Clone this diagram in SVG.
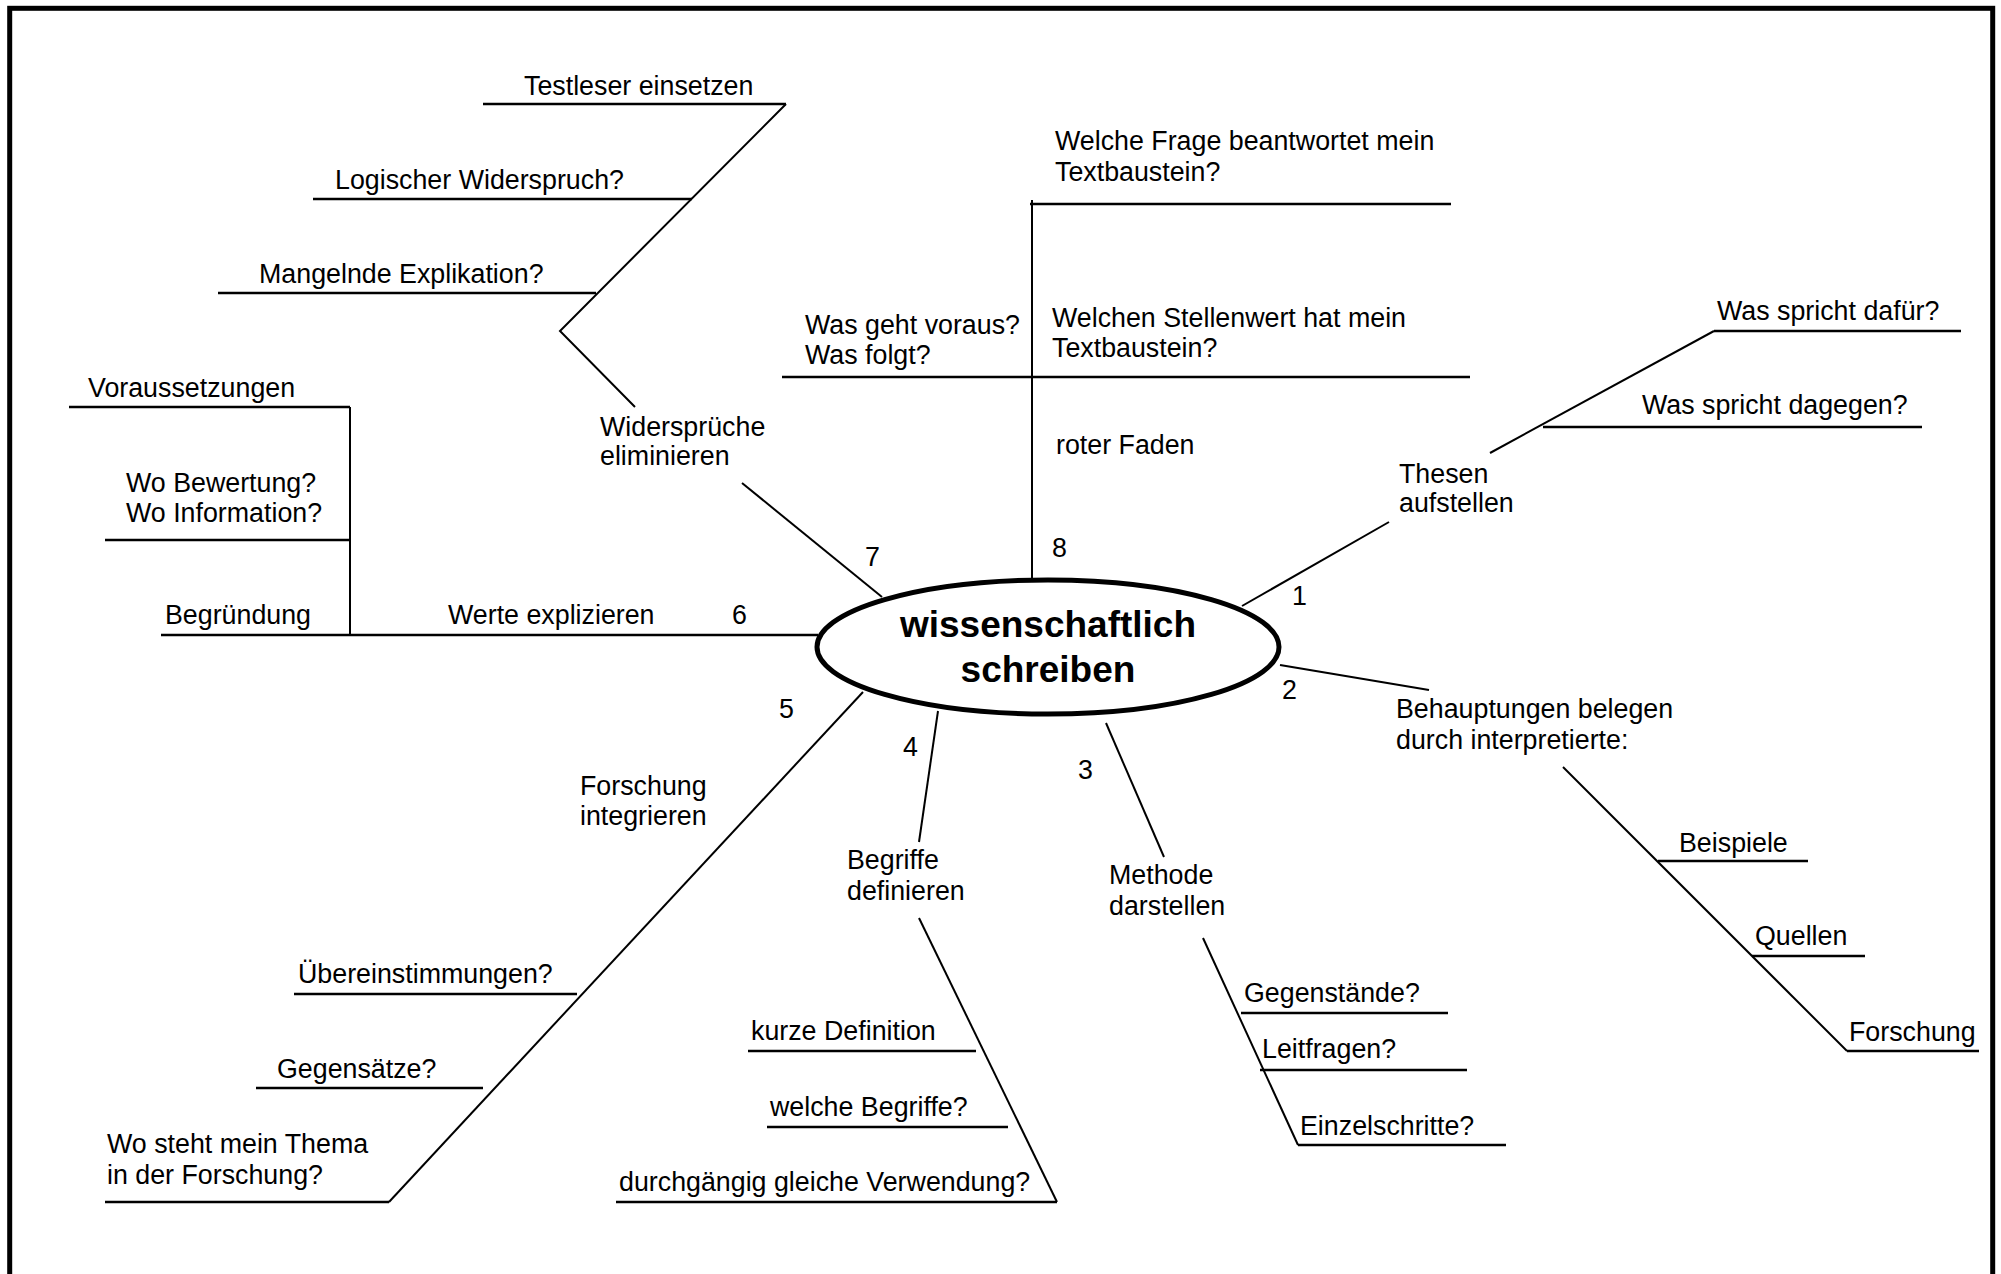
<svg xmlns="http://www.w3.org/2000/svg" width="2001" height="1274" viewBox="0 0 2001 1274">
<style>
text{font-family:"Liberation Sans",Arial,sans-serif;font-size:26.8px;fill:#000}
.c{font-weight:bold;font-size:37px;text-anchor:middle}
line,polyline{stroke:#000;fill:none;stroke-linecap:butt}
.h{stroke-width:2.5}
.d{stroke-width:2}
</style>
<rect x="0" y="0" width="2001" height="1274" fill="#fff"/>
<rect x="9.7" y="8.3" width="1983" height="1300" fill="none" stroke="#000" stroke-width="5"/>
<g id="connectors">
<polyline class="d" points="786,104 560,331 635,407"/>
<line class="d" x1="742" y1="483" x2="882" y2="597"/>
<line class="d" x1="350" y1="407" x2="350" y2="635"/>
<line class="h" x1="161" y1="635" x2="818" y2="635"/>
<line class="d" x1="1032" y1="200" x2="1032" y2="578"/>
<line class="h" x1="782" y1="377" x2="1470" y2="377"/>
<line class="d" x1="1242" y1="606" x2="1389" y2="522"/>
<line class="d" x1="1490" y1="453" x2="1714" y2="331"/>
<line class="d" x1="1280" y1="665" x2="1429" y2="690"/>
<line class="d" x1="1563" y1="767" x2="1847" y2="1051"/>
<line class="d" x1="1106" y1="723" x2="1164" y2="857"/>
<line class="d" x1="1203" y1="938" x2="1298" y2="1145"/>
<line class="d" x1="938" y1="711" x2="919" y2="842"/>
<line class="d" x1="919" y1="918" x2="1057" y2="1202"/>
<line class="d" x1="863" y1="692" x2="389" y2="1202"/>
</g>
<g id="center">
<ellipse cx="1048" cy="647" rx="231" ry="67" fill="#fff" stroke="#000" stroke-width="5"/>
<text class="c" x="1048" y="637">wissenschaftlich</text>
<text class="c" x="1048" y="682">schreiben</text>
</g>
<g id="n7">
<text x="600" y="436">Widersprüche</text>
<text x="600" y="465">eliminieren</text>
<text x="865" y="566">7</text>
</g>
<g id="n7a"><text x="524" y="95">Testleser einsetzen</text><line class="h" x1="483" y1="104" x2="786" y2="104"/></g>
<g id="n7b"><text x="335" y="189">Logischer Widerspruch?</text><line class="h" x1="313" y1="199" x2="692" y2="199"/></g>
<g id="n7c"><text x="259" y="283">Mangelnde Explikation?</text><line class="h" x1="218" y1="293" x2="596" y2="293"/></g>
<g id="n6">
<text x="448" y="624">Werte explizieren</text>
<text x="732" y="624">6</text>
</g>
<g id="n6a"><text x="88" y="397">Voraussetzungen</text><line class="h" x1="69" y1="407" x2="350" y2="407"/></g>
<g id="n6b"><text x="126" y="492">Wo Bewertung?</text><text x="126" y="522">Wo Information?</text><line class="h" x1="105" y1="540" x2="350" y2="540"/></g>
<g id="n6c"><text x="165" y="624">Begründung</text></g>
<g id="n8">
<text x="1056" y="454">roter Faden</text>
<text x="1052" y="557">8</text>
</g>
<g id="n8a"><text x="1055" y="150">Welche Frage beantwortet mein</text><text x="1055" y="181">Textbaustein?</text><line class="h" x1="1030" y1="204" x2="1451" y2="204"/></g>
<g id="n8b"><text x="805" y="334">Was geht voraus?</text><text x="805" y="364">Was folgt?</text></g>
<g id="n8c"><text x="1052" y="327">Welchen Stellenwert hat mein</text><text x="1052" y="357">Textbaustein?</text></g>
<g id="n1">
<text x="1399" y="483">Thesen</text>
<text x="1399" y="512">aufstellen</text>
<text x="1292" y="605">1</text>
</g>
<g id="n1a"><text x="1717" y="320">Was spricht dafür?</text><line class="h" x1="1714" y1="331" x2="1961" y2="331"/></g>
<g id="n1b"><text x="1642" y="414">Was spricht dagegen?</text><line class="h" x1="1543" y1="427" x2="1922" y2="427"/></g>
<g id="n2">
<text x="1396" y="718">Behauptungen belegen</text>
<text x="1396" y="749">durch interpretierte:</text>
<text x="1282" y="699">2</text>
</g>
<g id="n2a"><text x="1679" y="852">Beispiele</text><line class="h" x1="1658" y1="861" x2="1808" y2="861"/></g>
<g id="n2b"><text x="1755" y="945">Quellen</text><line class="h" x1="1752" y1="956" x2="1865" y2="956"/></g>
<g id="n2c"><text x="1849" y="1041">Forschung</text><line class="h" x1="1847" y1="1051" x2="1979" y2="1051"/></g>
<g id="n3">
<text x="1109" y="884">Methode</text>
<text x="1109" y="915">darstellen</text>
<text x="1078" y="779">3</text>
</g>
<g id="n3a"><text x="1244" y="1002">Gegenstände?</text><line class="h" x1="1241" y1="1013" x2="1448" y2="1013"/></g>
<g id="n3b"><text x="1262" y="1058">Leitfragen?</text><line class="h" x1="1260" y1="1070" x2="1467" y2="1070"/></g>
<g id="n3c"><text x="1300" y="1135">Einzelschritte?</text><line class="h" x1="1298" y1="1145" x2="1506" y2="1145"/></g>
<g id="n4">
<text x="847" y="869">Begriffe</text>
<text x="847" y="900">definieren</text>
<text x="903" y="756">4</text>
</g>
<g id="n4a"><text x="751" y="1040">kurze Definition</text><line class="h" x1="748" y1="1051" x2="976" y2="1051"/></g>
<g id="n4b"><text x="770" y="1116">welche Begriffe?</text><line class="h" x1="767" y1="1127" x2="1008" y2="1127"/></g>
<g id="n4c"><text x="619" y="1191">durchgängig gleiche Verwendung?</text><line class="h" x1="616" y1="1202" x2="1057" y2="1202"/></g>
<g id="n5">
<text x="580" y="795">Forschung</text>
<text x="580" y="825">integrieren</text>
<text x="779" y="718">5</text>
</g>
<g id="n5a"><text x="298" y="983">Übereinstimmungen?</text><line class="h" x1="294" y1="994" x2="577" y2="994"/></g>
<g id="n5b"><text x="277" y="1078">Gegensätze?</text><line class="h" x1="256" y1="1088" x2="483" y2="1088"/></g>
<g id="n5c"><text x="107" y="1153">Wo steht mein Thema</text><text x="107" y="1184">in der Forschung?</text><line class="h" x1="105" y1="1202" x2="389" y2="1202"/></g>
</svg>
